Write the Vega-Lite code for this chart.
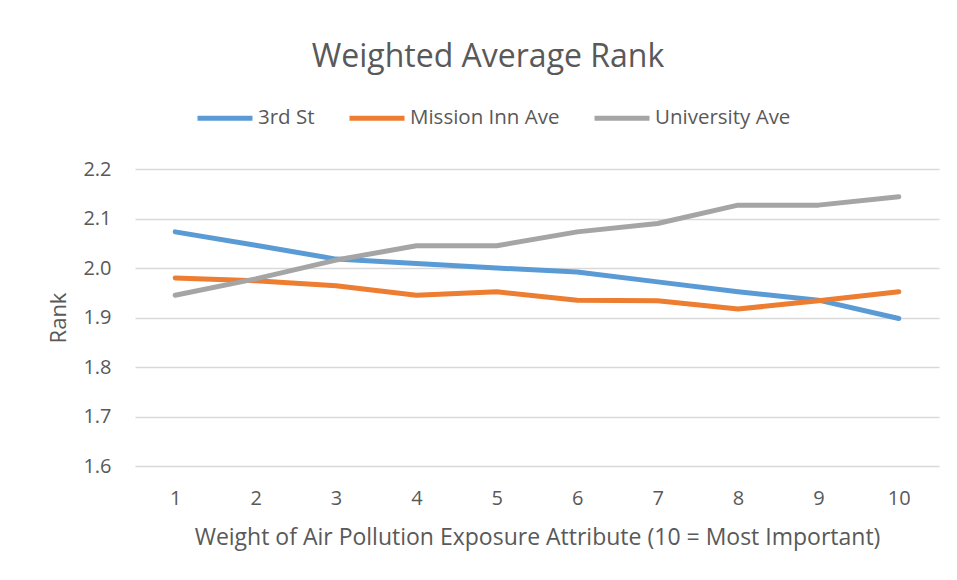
{
  "$schema": "https://vega.github.io/schema/vega-lite/v6.json",
  "width": 804,
  "height": 297,
  "autosize": "none",
  "padding": {"left": 135, "top": 169, "right": 18, "bottom": 114},
  "background": "white",
  "config": {
    "font": "Open Sans",
    "view": {"stroke": null},
    "axis": {"labelColor": "#595959", "titleColor": "#595959", "titleFontWeight": "normal"}
  },
  "title": {
    "text": "Weighted Average Rank",
    "fontSize": 32,
    "fontWeight": "normal",
    "color": "#595959",
    "font": "Open Sans",
    "anchor": "middle",
    "dx": -49,
    "offset": 14
  },
  "data": {
    "values": [
      {"weight": 1, "street": "3rd St", "rank": 2.073},
      {"weight": 2, "street": "3rd St", "rank": 2.046},
      {"weight": 3, "street": "3rd St", "rank": 2.018},
      {"weight": 4, "street": "3rd St", "rank": 2.009},
      {"weight": 5, "street": "3rd St", "rank": 2.000},
      {"weight": 6, "street": "3rd St", "rank": 1.992},
      {"weight": 7, "street": "3rd St", "rank": 1.972},
      {"weight": 8, "street": "3rd St", "rank": 1.952},
      {"weight": 9, "street": "3rd St", "rank": 1.935},
      {"weight": 10, "street": "3rd St", "rank": 1.898},
      {"weight": 1, "street": "Mission Inn Ave", "rank": 1.980},
      {"weight": 2, "street": "Mission Inn Ave", "rank": 1.974},
      {"weight": 3, "street": "Mission Inn Ave", "rank": 1.964},
      {"weight": 4, "street": "Mission Inn Ave", "rank": 1.945},
      {"weight": 5, "street": "Mission Inn Ave", "rank": 1.952},
      {"weight": 6, "street": "Mission Inn Ave", "rank": 1.935},
      {"weight": 7, "street": "Mission Inn Ave", "rank": 1.934},
      {"weight": 8, "street": "Mission Inn Ave", "rank": 1.917},
      {"weight": 9, "street": "Mission Inn Ave", "rank": 1.934},
      {"weight": 10, "street": "Mission Inn Ave", "rank": 1.952},
      {"weight": 1, "street": "University Ave", "rank": 1.945},
      {"weight": 2, "street": "University Ave", "rank": 1.978},
      {"weight": 3, "street": "University Ave", "rank": 2.016},
      {"weight": 4, "street": "University Ave", "rank": 2.045},
      {"weight": 5, "street": "University Ave", "rank": 2.045},
      {"weight": 6, "street": "University Ave", "rank": 2.073},
      {"weight": 7, "street": "University Ave", "rank": 2.090},
      {"weight": 8, "street": "University Ave", "rank": 2.127},
      {"weight": 9, "street": "University Ave", "rank": 2.127},
      {"weight": 10, "street": "University Ave", "rank": 2.144}
    ]
  },
  "mark": {"type": "line", "strokeWidth": 5, "strokeCap": "round", "strokeJoin": "round"},
  "encoding": {
    "x": {
      "field": "weight",
      "type": "ordinal",
      "scale": {"type": "point", "padding": 0.5},
      "axis": {
        "title": "Weight of Air Pollution Exposure Attribute (10 = Most Important)",
        "labelAngle": 0,
        "labelFontSize": 20,
        "labelBaseline": "middle",
        "labelPadding": 32,
        "ticks": false,
        "domain": false,
        "grid": false,
        "titleFontSize": 23,
        "titleBaseline": "middle",
        "titleY": 71
      }
    },
    "y": {
      "field": "rank",
      "type": "quantitative",
      "scale": {"domain": [1.6, 2.2], "zero": false, "nice": false},
      "axis": {
        "title": "Rank",
        "values": [1.6, 1.7, 1.8, 1.9, 2.0, 2.1, 2.2],
        "format": ".1f",
        "labelFontSize": 20,
        "labelPadding": 24,
        "ticks": false,
        "domain": false,
        "grid": true,
        "gridColor": "#d9d9d9",
        "gridWidth": 1.5,
        "titleFontSize": 22,
        "titleBaseline": "middle",
        "titleX": -77,
        "titleY": 148.5,
        "titleAngle": -90
      }
    },
    "color": {
      "field": "street",
      "type": "nominal",
      "scale": {"domain": ["3rd St", "Mission Inn Ave", "University Ave"], "range": ["#5B9BD5", "#ED7D31", "#A5A5A5"]},
      "legend": {
        "title": null,
        "orient": "none",
        "direction": "horizontal",
        "legendX": 60,
        "legendY": -81,
        "symbolType": "stroke",
        "symbolSize": 3025,
        "symbolStrokeWidth": 5,
        "labelFontSize": 20.5,
        "labelColor": "#595959",
        "labelOffset": 3,
        "columnPadding": 24
      }
    }
  }
}
